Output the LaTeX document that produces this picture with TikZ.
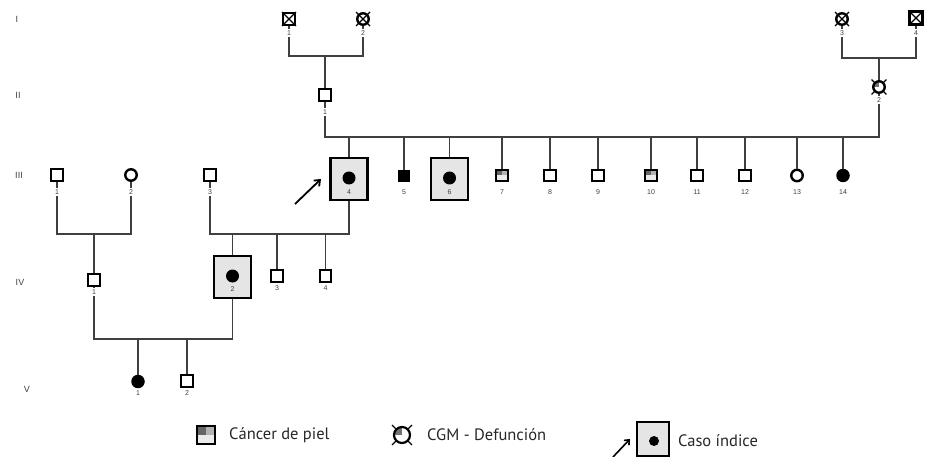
\documentclass[tikz,border=0pt]{standalone}
\usepackage{fontspec}
\setmainfont{Liberation Sans}
\newfontfamily\legfont{PT Sans}
\usetikzlibrary{arrows.meta,calc}
\begin{document}
\begin{tikzpicture}[x=1pt,y=-1pt,
  conn/.style={line width=1.1pt, draw=black!75},
  sq/.style={rectangle, draw=black, line width=2.4pt, minimum size=11.5pt, inner sep=0pt, fill=white},
  ci/.style={circle, draw=black, line width=2.4pt, minimum size=11.5pt, inner sep=0pt, fill=white},
  fci/.style={circle, fill=black, minimum size=13.5pt, inner sep=0pt},
  fsq/.style={rectangle, fill=black, minimum size=12.5pt, inner sep=0pt},
  bigbox/.style={rectangle, draw=black, line width=2.2pt, fill=black!10, minimum width=37pt, minimum height=42pt, inner sep=0pt},
  dot/.style={circle, fill=black, minimum size=13pt, inner sep=0pt},
  lab/.style={font=\fontsize{7}{8}\selectfont, text=black!75, fill=white, inner sep=1.6pt},
  blab/.style={font=\fontsize{7}{8}\selectfont, text=black!75, inner sep=0pt},
  gen/.style={font=\fontsize{9}{10}\selectfont, text=black!75},
  legtext/.style={font=\legfont\fontsize{16.5}{18}\selectfont, text=black!85, anchor=west, inner sep=0pt},
  cancer/.style={sq, path picture={
    \fill[black!8] (path picture bounding box.south west) rectangle (path picture bounding box.north east);
    \fill[black!60] (path picture bounding box.north west) rectangle (path picture bounding box.center);
    \fill[black!30] (path picture bounding box.north) rectangle (path picture bounding box.east);}},
  quad/.style={ci, path picture={
    \fill[black!55] (path picture bounding box.center) rectangle (path picture bounding box.north west);}},
  xl/.style={line width=1.1pt, draw=black},
]
\useasboundingbox (0,0) rectangle (936,457);

% generation labels
\node[gen] (gI) at (17,19) {I};
\node[gen] (gII) at (18,95) {II};
\node[gen] (gIII) at (19,175) {III};
\node[gen] (gIV) at (20,282) {IV};
\node[gen] (gV) at (27,389) {V};

% generation I
\node[sq] (I1) at (289,19) {};
\node[ci] (I2) at (363,19) {};
\node[ci] (I3) at (842,19) {};
\node[sq, minimum size=13pt] (I4) at (916,18) {};
\draw[xl] (I1.north west) -- (I1.south east) (I1.north east) -- (I1.south west);
\draw[xl] (I4.north west) -- (I4.south east) (I4.north east) -- (I4.south west);
\draw[xl] ($(I2)+(-7,-7)$) -- ($(I2)+(7,7)$) ($(I2)+(7,-7)$) -- ($(I2)+(-7,7)$);
\draw[xl] ($(I3)+(-7,-7)$) -- ($(I3)+(7,7)$) ($(I3)+(7,-7)$) -- ($(I3)+(-7,7)$);

% generation II
\node[sq] (II1) at (325,95) {};
\node[quad] (II2) at (879,87) {};
\foreach \a in {45,135,225,315}{\draw[xl] ($(II2)+(\a:6.5)$) -- ($(II2)+(\a:10.5)$);}

% generation III
\node[sq] (III1) at (57,175) {};
\node[ci] (III2) at (131,175) {};
\node[sq] (III3) at (210,175) {};
\node[bigbox] (III4) at (349,179) {};
\node[dot] at (349,178) {};
\node[fsq] (III5) at (404,176) {};
\node[bigbox] (III6) at (449.5,179) {};
\node[dot] at (449.5,178) {};
\node[cancer] (III7) at (502,175.5) {};
\node[sq] (III8) at (550,175.5) {};
\node[sq] (III9) at (598,175.5) {};
\node[cancer] (III10) at (651,175.5) {};
\node[sq] (III11) at (697,175.5) {};
\node[sq] (III12) at (745,175.5) {};
\node[ci] (III13) at (797,175.5) {};
\node[fci] (III14) at (843,175.5) {};

% generation IV
\node[sq] (IV1) at (94,280) {};
\node[bigbox] (IV2) at (232.5,277) {};
\node[dot] at (232.5,276) {};
\node[sq] (IV3) at (277,276) {};
\node[sq] (IV4) at (325.5,276) {};

% generation V
\node[fci] (V1) at (138,381.5) {};
\node[sq] (V2) at (187,381) {};

% line levels
\coordinate (mI) at (0,56);
\coordinate (mIb) at (0,58);
\coordinate (mII) at (0,137);
\coordinate (mIII) at (0,234);
\coordinate (mIV) at (0,339);

% connectors
\draw[conn] (I1.south) -- (I1 |- mI) -- (I2 |- mI) -- (I2.south);
\draw[conn] (II1 |- mI) -- (II1.north);
\draw[conn] (I3.south) -- (I3 |- mIb) -- (I4 |- mIb) -- (I4.south);
\draw[conn] (II2 |- mIb) -- (II2.north);
\draw[conn] (II1.south) -- (II1 |- mII) -- (II2 |- mII) -- (II2.south);
\foreach \c in {III4,III5,III6,III7,III8,III9,III10,III11,III12,III13,III14}{
  \draw[conn] (\c |- mII) -- (\c.north);}
\draw[conn] (III1.south) -- (III1 |- mIII) -- (III2 |- mIII) -- (III2.south);
\draw[conn] (IV1 |- mIII) -- (IV1.north);
\draw[conn] (III3.south) -- (III3 |- mIII) -- (III4 |- mIII) -- (III4.south);
\foreach \c in {IV2,IV3,IV4}{\draw[conn] (\c |- mIII) -- (\c.north);}
\draw[conn] (IV1.south) -- (IV1 |- mIV) -- (IV2 |- mIV) -- (IV2.south);
\foreach \c in {V1,V2}{\draw[conn] (\c |- mIV) -- (\c.north);}

% proband arrow
\coordinate (pa) at (295,204);
\coordinate (pb) at (321,179);
\draw[line width=1.8pt, -{Straight Barb[length=5pt,width=8pt]}] (pa) -- (pb);

% number labels
\node[lab] at (289,33) {1};
\node[lab] at (363,33) {2};
\node[lab] at (842,33) {3};
\node[lab] at (916,33) {4};
\node[lab] at (325,112) {1};
\node[lab] at (879,100) {2};
\node[lab] at (57,192) {1};
\node[lab] at (131,192) {2};
\node[lab] at (210,192) {3};
\node[blab] at (349,192) {4};
\node[lab] at (404,192) {5};
\node[blab] at (449.5,192) {6};
\node[lab] at (502,192) {7};
\node[lab] at (550,192) {8};
\node[lab] at (598,192) {9};
\node[lab] at (651,192) {10};
\node[lab] at (697,192) {11};
\node[lab] at (745,192) {12};
\node[lab] at (797,192) {13};
\node[lab] at (843,192) {14};
\node[lab] at (94,292) {1};
\node[blab] at (232.5,289) {2};
\node[lab] at (277,288) {3};
\node[lab] at (325.5,288) {4};
\node[lab] at (138,393) {1};
\node[lab] at (187,393) {2};

% legend
\node[cancer, minimum size=18pt, line width=2.2pt] (Lc) at (206,435) {};
\node[legtext] (Lct) at (229,435) {Cáncer de piel};
\node[quad, minimum size=16pt, line width=2.2pt] (Lg) at (402,435) {};
\foreach \a in {45,135,225,315}{\draw[xl] ($(Lg)+(\a:9)$) -- ($(Lg)+(\a:14)$);}
\node[legtext] (Lgt) at (427,435) {CGM - Defunción};
\node[bigbox, minimum width=32pt, minimum height=34pt] (Lp) at (653,439) {};
\node[dot, minimum size=10pt] at (654,441) {};
\coordinate (la) at (613,457);
\coordinate (lb) at (630,439);
\draw[line width=1.6pt, -{Straight Barb[length=4pt,width=7pt]}] (la) -- (lb);
\node[legtext] (Lpt) at (678,441) {Caso índice};
\end{tikzpicture}
\end{document}
